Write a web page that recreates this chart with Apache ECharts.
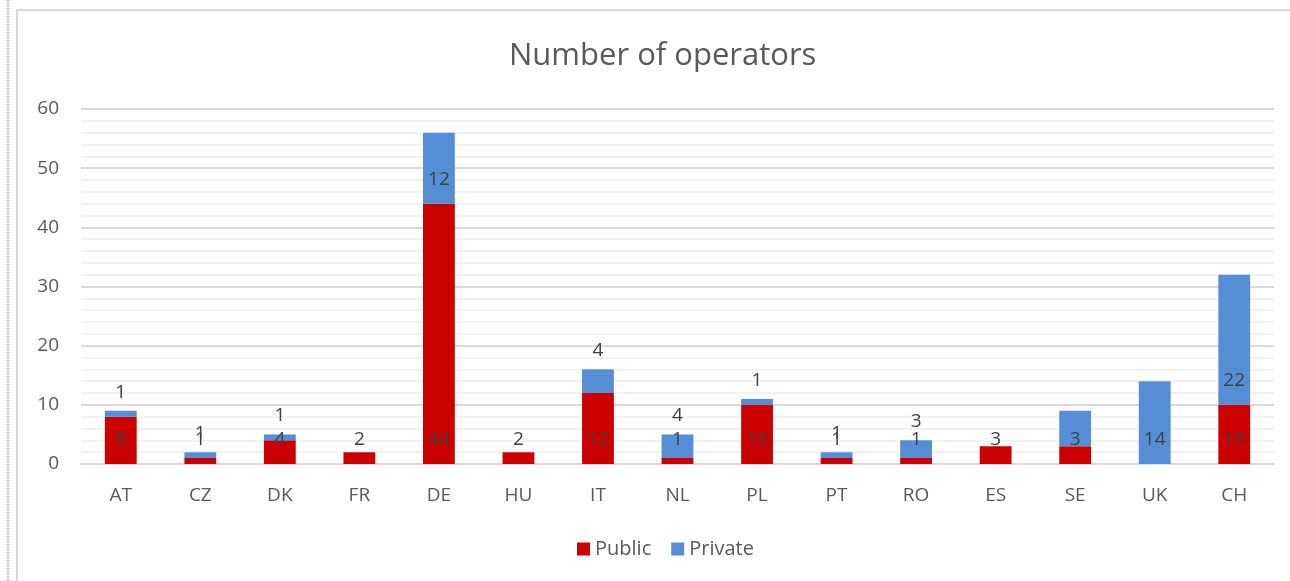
<!DOCTYPE html>
<html>
<head>
<meta charset="utf-8">
<title>Number of operators</title>
<script src="https://cdn.jsdelivr.net/npm/echarts@6/dist/echarts.min.js"></script>
<style>
  html, body { margin: 0; padding: 0; background: #fff; }
  #main { width: 1290px; height: 581px; }
</style>
</head>
<body>
<div id="main"></div>
<script>
// values
const countries = ['AT', 'CZ', 'DK', 'FR', 'DE', 'HU', 'IT', 'NL', 'PL', 'PT', 'RO', 'ES', 'SE', 'UK', 'CH'];
const publicOps = [8, 1, 4, 2, 44, 2, 12, 1, 10, 1, 1, 3, 3, 0, 10];
const privateOps = [1, 1, 1, 0, 12, 0, 4, 4, 1, 1, 3, 0, 6, 14, 22];
const hiddenPrivateLabels = ['SE'];

const textColor = '#595959';
const font = 'Open Sans';

const chart = echarts.init(document.getElementById('main'));

const privateData = privateOps.map((v, i) => {
  const big = v >= 10;
  return {
    value: v,
    label: {
      show: v > 0 && hiddenPrivateLabels.indexOf(countries[i]) < 0,
      position: big ? 'insideBottom' : 'top',
      distance: big ? 15 : 9
    }
  };
});

const option = {
  animation: false,
  backgroundColor: '#fff',
  textStyle: { fontFamily: font },
  title: {
    text: 'Number of operators',
    left: 504,
    top: 36,
    textStyle: { fontFamily: font, fontSize: 31, fontWeight: 'normal', color: textColor }
  },
  legend: {
    bottom: 17,
    left: 572,
    itemWidth: 13,
    itemHeight: 13,
    itemGap: 20,
    icon: 'rect',
    textStyle: { fontFamily: font, fontSize: 20, color: textColor },
    data: ['Public', 'Private']
  },
  grid: { left: 81, right: 16, top: 109, bottom: 117 },
  xAxis: {
    type: 'category',
    data: countries,
    axisLine: { lineStyle: { color: '#d9d9d9', width: 2 } },
    axisTick: { show: false },
    axisLabel: { fontFamily: font, fontSize: 19, color: textColor, margin: 22 }
  },
  yAxis: {
    type: 'value',
    min: 0,
    max: 60,
    interval: 10,
    axisLine: { show: false },
    axisTick: { show: false },
    axisLabel: { fontFamily: font, fontSize: 19, color: textColor, margin: 22 },
    splitLine: { lineStyle: { color: '#d9d9d9', width: 2 } },
    minorTick: { show: false, splitNumber: 5 },
    minorSplitLine: { show: true, lineStyle: { color: '#f2f2f2', width: 2 } }
  },
  series: [
    {
      name: 'Public',
      type: 'bar',
      stack: 'ops',
      barCategoryGap: '60%',
      itemStyle: { color: '#cc0000' },
      label: {
        show: true,
        position: 'insideBottom',
        distance: 15,
        fontFamily: font,
        fontSize: 19,
        color: '#404040',
        formatter: p => (p.value > 0 ? p.value : '')
      },
      data: publicOps
    },
    {
      name: 'Private',
      type: 'bar',
      stack: 'ops',
      barCategoryGap: '60%',
      itemStyle: { color: '#558ed5' },
      label: {
        show: true,
        fontFamily: font,
        fontSize: 19,
        color: '#404040'
      },
      data: privateData
    }
  ],
  graphic: [
    {
      type: 'line',
      shape: { x1: 8, y1: 0, x2: 8, y2: 581 },
      style: { stroke: '#bfbfbf', lineWidth: 3, lineDash: [1, 1] },
      silent: true
    },
    {
      type: 'polyline',
      shape: { points: [[17, 581], [17, 10], [1290, 10]] },
      style: { stroke: '#d9d9d9', lineWidth: 2, fill: null },
      silent: true
    }
  ]
};

chart.setOption(option);
</script>
</body>
</html>
